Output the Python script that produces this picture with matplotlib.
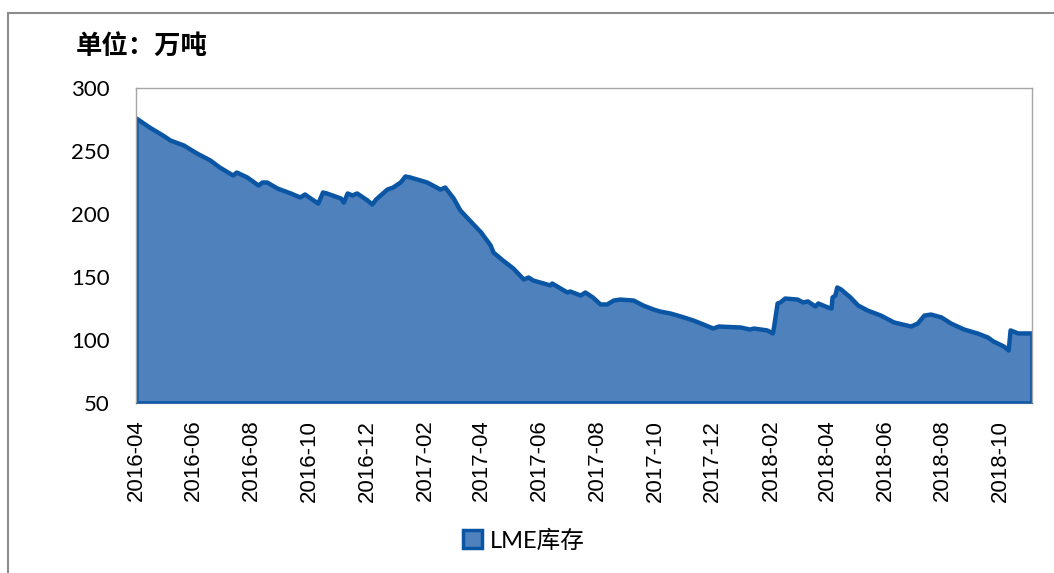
import numpy as np
import pandas as pd
import matplotlib
matplotlib.use("Agg")
import matplotlib.pyplot as plt
import matplotlib.dates as mdates
from matplotlib.patches import Rectangle

# LME inventory (10k tonnes)
dates = [
    "2016-04-01", "2016-04-15", "2016-04-29", "2016-05-07", "2016-05-21",
    "2016-06-04", "2016-06-18", "2016-06-28", "2016-07-12", "2016-07-16",
    "2016-07-27", "2016-08-08", "2016-08-12", "2016-08-17", "2016-08-28",
    "2016-09-11", "2016-09-21", "2016-09-26", "2016-10-02", "2016-10-10",
    "2016-10-15", "2016-10-19", "2016-11-03", "2016-11-06", "2016-11-10",
    "2016-11-15", "2016-11-20", "2016-12-01", "2016-12-06", "2016-12-10",
    "2016-12-22", "2016-12-28", "2017-01-05", "2017-01-10", "2017-01-15",
    "2017-01-26", "2017-02-02", "2017-02-16", "2017-02-21", "2017-03-02",
    "2017-03-09", "2017-03-20", "2017-03-31", "2017-04-10", "2017-04-13",
    "2017-04-23", "2017-05-04", "2017-05-15", "2017-05-20", "2017-05-25",
    "2017-06-12", "2017-06-14", "2017-06-30", "2017-07-03", "2017-07-14",
    "2017-07-19", "2017-07-27", "2017-08-04", "2017-08-11", "2017-08-18",
    "2017-08-25", "2017-09-08", "2017-09-18", "2017-09-29", "2017-10-06",
    "2017-10-17", "2017-10-28", "2017-11-10", "2017-11-18", "2017-12-01",
    "2017-12-07", "2017-12-30", "2018-01-09", "2018-01-13", "2018-01-27",
    "2018-02-02", "2018-02-03", "2018-02-07", "2018-02-10", "2018-02-15",
    "2018-02-28", "2018-03-06", "2018-03-11", "2018-03-19", "2018-03-22",
    "2018-04-01", "2018-04-05", "2018-04-06", "2018-04-09", "2018-04-11",
    "2018-04-15", "2018-04-25", "2018-05-03", "2018-05-13", "2018-05-27",
    "2018-06-10", "2018-06-28", "2018-07-05", "2018-07-12", "2018-07-19",
    "2018-07-30", "2018-08-09", "2018-08-23", "2018-09-06", "2018-09-17",
    "2018-09-23", "2018-10-04", "2018-10-09", "2018-10-11", "2018-10-19",
    "2018-11-03",
]
stock = [
    276.2, 269.0, 262.7, 258.7, 254.8,
    248.4, 242.9, 237.3, 231.0, 233.3,
    229.4, 223.0, 225.4, 225.4, 220.6,
    216.7, 213.5, 215.9, 212.7, 208.7,
    217.5, 216.7, 212.7, 209.5, 216.7,
    215.1, 216.7, 211.1, 207.9, 211.9,
    219.8, 221.4, 225.4, 230.2, 229.4,
    227.0, 225.4, 219.8, 221.4, 212.7,
    203.2, 194.4, 185.7, 175.4, 169.8,
    163.5, 157.1, 148.4, 150.0, 147.6,
    143.7, 145.2, 138.1, 138.9, 135.7,
    138.1, 134.1, 128.6, 128.6, 131.7,
    132.5, 131.7, 127.8, 124.6, 123.0,
    121.4, 119.0, 115.9, 113.5, 109.5,
    111.1, 110.3, 108.7, 109.5, 108.0,
    105.6, 109.5, 129.4, 130.2, 133.3,
    132.5, 130.2, 131.0, 127.0, 129.4,
    126.2, 125.4, 134.1, 135.7, 142.1,
    140.5, 134.1, 127.8, 123.8, 119.8,
    114.3, 111.1, 113.5, 119.8, 120.6,
    118.3, 113.5, 108.7, 105.6, 102.4,
    99.2, 95.2, 92.1, 108.0, 105.6,
    105.6,
]
y_ticks = [50, 100, 150, 200, 250, 300]

x = pd.to_datetime(dates)
y = np.array(stock)

fig = plt.figure(figsize=(10.54, 5.73), dpi=100)
ax = fig.add_axes([0.129, 0.2967, 0.850, 0.5497])

ax.fill_between(x, y, 50, facecolor="#4f81bd", edgecolor="#0b56a4",
                linewidth=3.2, joinstyle="round", zorder=2)

ax.set_ylim(50, 300)
ax.set_xlim(x[0], x[-1])
ax.set_yticks(y_ticks)
ax.tick_params(axis="y", length=0, pad=19, labelsize=16)
for lbl in ax.get_yticklabels():
    lbl.set_fontfamily(["Lato", "DejaVu Sans"])

ax.xaxis.set_major_locator(mdates.MonthLocator(bymonth=[2, 4, 6, 8, 10, 12]))
ax.xaxis.set_major_formatter(mdates.DateFormatter("%Y-%m"))
ax.tick_params(axis="x", length=0, pad=12, labelsize=16, rotation=90)
for lbl in ax.get_xticklabels():
    lbl.set_fontfamily(["Liberation Sans", "DejaVu Sans"])

for side in ["top", "right", "left"]:
    ax.spines[side].set_color("#a6a6a6")
    ax.spines[side].set_linewidth(1.0)
ax.spines["bottom"].set_color("#3d6aa8")

fig.text(0.072, 0.918, "单位：万吨", fontsize=19, fontweight="bold",
         family=["Noto Sans CJK SC", "DejaVu Sans"], va="center", ha="left")

h = plt.Rectangle((0, 0), 1, 1, facecolor="#4f81bd", edgecolor="#0b56a4",
                  linewidth=2.5)
leg = fig.legend([h], ["LME库存"], loc="center", bbox_to_anchor=(0.497, 0.057),
                 frameon=False, handlelength=0.8, handleheight=0.8,
                 handletextpad=0.3,
                 prop={"family": ["Lato", "Noto Sans CJK SC"], "size": 17})

# outer chart frame
fig.patches.append(Rectangle((8 / 1054, -0.1), 1.2, 1 - 13 / 573 + 0.1,
                             transform=fig.transFigure, fill=False,
                             edgecolor="#8c8c8c", linewidth=1.5))

fig.savefig("out.png", dpi=100)
